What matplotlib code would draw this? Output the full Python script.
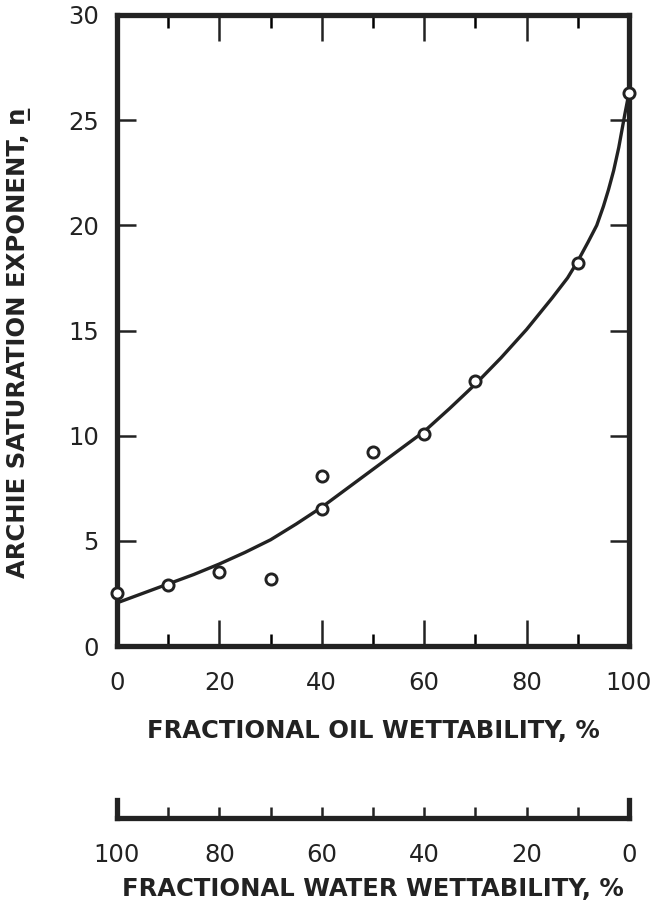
import matplotlib
matplotlib.use("Agg")
import matplotlib.pyplot as plt
from matplotlib.ticker import MultipleLocator

# ---- data ----
oil_wet = [0, 10, 20, 30, 40, 40, 50, 60, 70, 90, 100]
n_exp = [2.5, 2.9, 3.5, 3.2, 8.1, 6.5, 9.2, 10.1, 12.6, 18.2, 26.3]

curve_x = [0, 5, 10, 15, 20, 25, 30, 35, 40, 45, 50, 55, 60, 65, 70, 75, 80,
           85, 88, 90, 92, 93.7, 95, 96, 97, 98, 98.6, 99.2, 100]
curve_y = [2.05, 2.5, 2.95, 3.4, 3.9, 4.45, 5.05, 5.8, 6.6, 7.5, 8.4, 9.3,
           10.2, 11.3, 12.45, 13.7, 15.05, 16.55, 17.5, 18.3, 19.2, 20.0,
           20.9, 21.7, 22.6, 23.7, 24.5, 25.3, 26.3]

x_ticks = [0, 20, 40, 60, 80, 100]
y_ticks = [0, 5, 10, 15, 20, 25, 30]
water_ticks = [100, 80, 60, 40, 20, 0]

INK = "#222222"
FONT = "DejaVu Sans"
plt.rcParams["font.family"] = FONT

W, H = 653, 907
fig = plt.figure(figsize=(W / 100, H / 100), dpi=100)

def px_axes(l, t, r, b):
    return fig.add_axes([l / W, 1 - b / H, (r - l) / W, (b - t) / H])

ax = px_axes(117, 15, 629, 646)
ax.plot(curve_x, curve_y, color=INK, lw=2.4, zorder=3,
        solid_capstyle="round", solid_joinstyle="round")
ax.plot(oil_wet, n_exp, linestyle="none", marker="o", ms=8, mfc="white",
        mec=INK, mew=2.1, zorder=5, clip_on=False)
ax.set_xlim(0, 100)
ax.set_ylim(0, 30)
ax.set_xticks(x_ticks)
ax.set_xticklabels([str(v) for v in x_ticks])
ax.xaxis.set_minor_locator(MultipleLocator(10))
ax.set_yticks(y_ticks)
ax.set_yticklabels([str(v) for v in y_ticks])
for s in ax.spines.values():
    s.set_linewidth(3.8)
    s.set_color(INK)
ax.tick_params(axis="x", which="major", direction="in", length=19, width=1.8,
               top=True, bottom=True, labelsize=17.5, colors=INK, pad=18)
ax.tick_params(axis="x", which="minor", direction="in", length=9, width=1.8,
               top=True, bottom=True)
ax.tick_params(axis="y", which="major", direction="in", length=14, width=1.8,
               left=True, right=True, labelsize=17.5, colors=INK, pad=13)
ax.set_xlabel("FRACTIONAL OIL WETTABILITY, %", fontsize=17.5, color=INK,
              fontweight="bold", labelpad=17)
ax.set_ylabel("ARCHIE SATURATION EXPONENT, n\u0332",
              fontsize=17.5, color=INK, fontweight="bold")
ax.yaxis.set_label_coords(-0.168, 0.48)

# ---- secondary water wettability scale ----
ax2 = px_axes(117, 800, 629, 818)
ax2.set_xlim(100, 0)
ax2.set_ylim(0, 1)
ax2.set_yticks([])
ax2.set_xticks(water_ticks)
ax2.set_xticklabels([str(v) for v in water_ticks])
ax2.xaxis.set_minor_locator(MultipleLocator(10))
ax2.spines["top"].set_visible(False)
for k in ("left", "right", "bottom"):
    ax2.spines[k].set_linewidth(3.8)
    ax2.spines[k].set_color(INK)
ax2.patch.set_alpha(0)
ax2.tick_params(axis="x", which="both", direction="in", length=8, width=1.8,
                labelsize=17.5, colors=INK, pad=18)
ax2.set_xlabel("FRACTIONAL WATER WETTABILITY, %", fontsize=17.5, color=INK,
               fontweight="bold", labelpad=7)

fig.savefig("out.png", dpi=100)
